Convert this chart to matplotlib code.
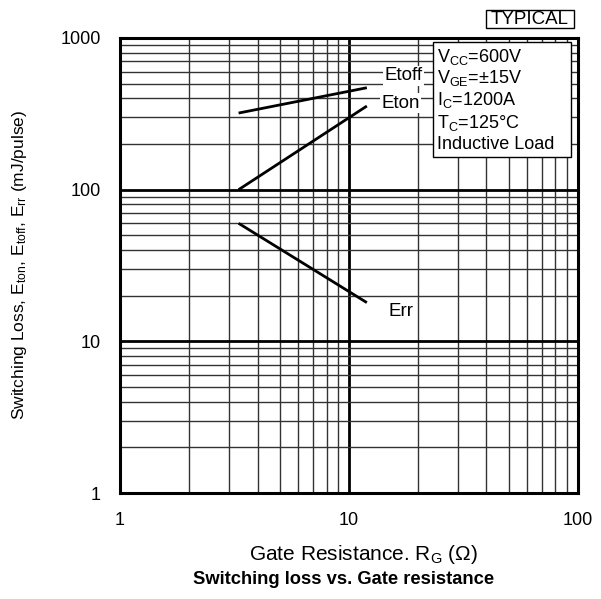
import matplotlib
matplotlib.use("Agg")
import matplotlib.pyplot as plt
from matplotlib.patches import Rectangle
from matplotlib.ticker import LogLocator, NullFormatter

plt.rcParams['font.family'] = ['Liberation Sans', 'DejaVu Sans']
plt.rcParams['mathtext.fontset'] = 'custom'
plt.rcParams['mathtext.rm'] = 'Liberation Sans'
plt.rcParams['mathtext.it'] = 'Liberation Sans'

# Data
rg = [3.3, 12]
etoff = [320, 470]
eton = [100, 356]
err = [60, 18]

x_ticks = [1, 10, 100]
x_ticklabels = ['1', '10', '100']
y_ticks = [1, 10, 100, 1000]
y_ticklabels = ['1', '10', '100', '1000']

conditions = [r'V$_\mathregular{CC}$=600V',
              r'V$_\mathregular{GE}$=$\pm$15V',
              r'I$_\mathregular{C}$=1200A',
              r'T$_\mathregular{C}$=125°C',
              'Inductive Load']

fig = plt.figure(figsize=(6.01, 5.99), dpi=100)
ax = fig.add_axes([120/601, 1-493/599, 457.5/601, 455/599])
ax.set_xscale('log')
ax.set_yscale('log')
ax.set_xlim(1, 100)
ax.set_ylim(1, 1000)

# grid
ax.xaxis.set_minor_locator(LogLocator(base=10, subs=range(2, 10)))
ax.yaxis.set_minor_locator(LogLocator(base=10, subs=range(2, 10)))
ax.xaxis.set_minor_formatter(NullFormatter())
ax.yaxis.set_minor_formatter(NullFormatter())
ax.grid(which='minor', color='0.2', lw=1.0)
ax.grid(which='major', color='black', lw=2.0)
ax.set_axisbelow(True)

ax.set_xticks(x_ticks)
ax.set_xticklabels(x_ticklabels)
ax.set_yticks(y_ticks)
ax.set_yticklabels(y_ticklabels)
ax.tick_params(which='both', length=0)
ax.tick_params(axis='x', pad=14, labelsize=13)
ax.tick_params(axis='y', pad=14, labelsize=13)
for s in ax.spines.values():
    s.set_linewidth(2.2)
    s.set_zorder(5)

lw = 2.0
ax.plot(rg, etoff, color='black', lw=lw, solid_capstyle='butt', zorder=3)
ax.plot(rg, eton, color='black', lw=lw, solid_capstyle='butt', zorder=3)
ax.plot(rg, err, color='black', lw=lw, solid_capstyle='butt', zorder=3)

lab_kw = dict(fontsize=13.5, ha='center', va='center', zorder=4,
              bbox=dict(facecolor='white', edgecolor='none', pad=1.0))
ax.text(0.619, 0.917, 'Etoff', transform=ax.transAxes, **lab_kw)
ax.text(0.614, 0.857, 'Eton', transform=ax.transAxes, **lab_kw)
ax.text(0.614, 0.400, 'Err', transform=ax.transAxes, **lab_kw)

# conditions box
ax.add_patch(Rectangle((0.6835, 0.7395), 0.3023, 0.2508, transform=ax.transAxes,
                       facecolor='white', edgecolor='black', lw=1.0, zorder=6))
ys = [0.9589, 0.9127, 0.8642, 0.8136, 0.7652]
for t, y in zip(conditions, ys):
    ax.text(0.6928, y, t, transform=ax.transAxes, fontsize=13, ha='left',
            va='center', zorder=7)

# TYPICAL box
fig.patches.append(Rectangle((485.7/601, 1-28.3/599), 88.3/601, 18.3/599,
                             transform=fig.transFigure, facecolor='white',
                             edgecolor='black', lw=1.0))
fig.text(529.8/601, 1-19.5/599, 'TYPICAL', ha='center', va='center', fontsize=13.5)

fig.text(20/601, 1-265/599,
         r'Switching Loss, E$_\mathregular{ton}$, E$_\mathregular{toff}$, E$_\mathregular{rr}$ (mJ/pulse)',
         rotation=90, ha='center', va='center', fontsize=12.5)
fig.text(364/601, 1-560/599, r'Gate Resistance. R$_\mathregular{G}$ ($\Omega$)',
         ha='center', va='baseline', fontsize=15)
fig.text(344/601, 1-584.5/599, 'Switching loss vs. Gate resistance',
         ha='center', va='baseline', fontsize=13.2, fontweight='bold')

fig.savefig('out.png', dpi=100)
